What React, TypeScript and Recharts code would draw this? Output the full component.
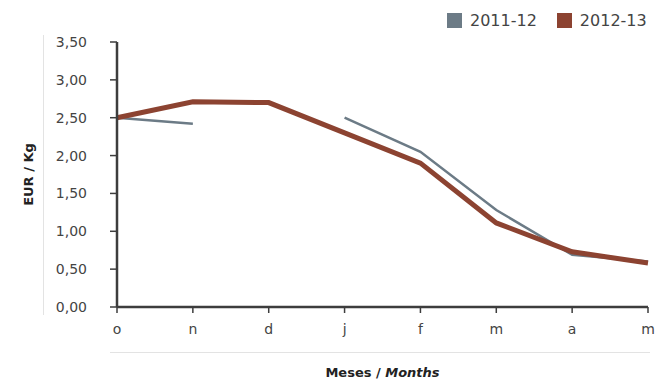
import React from "react";
import { LineChart, Line, XAxis, YAxis, Label } from "recharts";

const months = ["o", "n", "d", "j", "f", "m", "a", "m"];
const season1Name = "2011-12";
const season2Name = "2012-13";
const season1 = [2.5, 2.42, null, 2.5, 2.05, 1.28, 0.69, 0.6];
const season2 = [2.5, 2.71, 2.7, 2.3, 1.9, 1.11, 0.73, 0.58];
const yTicks = [0, 0.5, 1, 1.5, 2, 2.5, 3, 3.5];

const GRAY = "#6c7b86";
const BROWN = "#8c4331";
const FONT = "'DejaVu Sans', sans-serif";

const data = months.map((m, i) => ({
  key: i,
  month: m,
  [season1Name]: season1[i],
  [season2Name]: season2[i],
}));

const fmt = (v: number) => v.toFixed(2).replace(".", ",");

export default function App() {
  return (
    <div style={{ position: "absolute", left: 0, top: 0, width: 670, height: 383, fontFamily: FONT }}>
      {/* leyenda */}
      <div style={{ position: "absolute", top: 11, left: 447, display: "flex", alignItems: "center", fontSize: 16, color: "#444" }}>
        <span style={{ width: 15, height: 15, background: GRAY, display: "inline-block", marginRight: 8 }} />
        <span style={{ marginRight: 20 }}>{season1Name}</span>
        <span style={{ width: 15, height: 15, background: BROWN, display: "inline-block", marginRight: 8 }} />
        <span>{season2Name}</span>
      </div>
      {/* separadores */}
      <div style={{ position: "absolute", left: 43, top: 35, width: 1, height: 280, background: "#e3e3e3" }} />
      <div style={{ position: "absolute", left: 110, top: 352, width: 540, height: 1, background: "#e3e3e3" }} />

      <LineChart
        width={670}
        height={383}
        data={data}
        margin={{ top: 42, right: 22, bottom: 0, left: 0 }}
      >
        <XAxis
          dataKey="key"
          tickFormatter={(i) => months[i]}
          padding={{ left: 0, right: 0 }}
          axisLine={{ stroke: "#3d3d3d", strokeWidth: 2.5 }}
          tickLine={{ stroke: "#3d3d3d", strokeWidth: 1.5 }}
          tickSize={6}
          tickMargin={11}
          tick={{ fill: "#444", fontSize: 14, fontFamily: FONT }}
          height={76}
          interval={0}
        >
          <Label
            position="insideBottom"
            offset={4}
            content={({ viewBox }: any) => (
              <text
                x={viewBox.x + viewBox.width / 2}
                y={377}
                textAnchor="middle"
                fontSize={13}
                fontWeight="bold"
                fill="#222"
                fontFamily={FONT}
              >
                Meses / <tspan fontStyle="italic">Months</tspan>
              </text>
            )}
          />
        </XAxis>
        <YAxis
          domain={[0, 3.5]}
          ticks={yTicks}
          tickFormatter={fmt}
          width={117}
          axisLine={{ stroke: "#3d3d3d", strokeWidth: 2.5 }}
          tickLine={{ stroke: "#3d3d3d", strokeWidth: 1.5 }}
          tickSize={7}
          tickMargin={23}
          tick={{ fill: "#444", fontSize: 14, fontFamily: FONT }}
          interval={0}
        >
          <Label
            value="EUR / Kg"
            angle={-90}
            position="insideLeft"
            offset={28}
            style={{ textAnchor: "middle", fontSize: 13, fontWeight: "bold", fill: "#222", fontFamily: FONT }}
          />
        </YAxis>
        <Line
          dataKey={season1Name}
          stroke={GRAY}
          strokeWidth={2.5}
          dot={false}
          activeDot={false}
          connectNulls={false}
          isAnimationActive={false}
        />
        <Line
          dataKey={season2Name}
          stroke={BROWN}
          strokeWidth={5}
          dot={false}
          activeDot={false}
          isAnimationActive={false}
        />
      </LineChart>
    </div>
  );
}
